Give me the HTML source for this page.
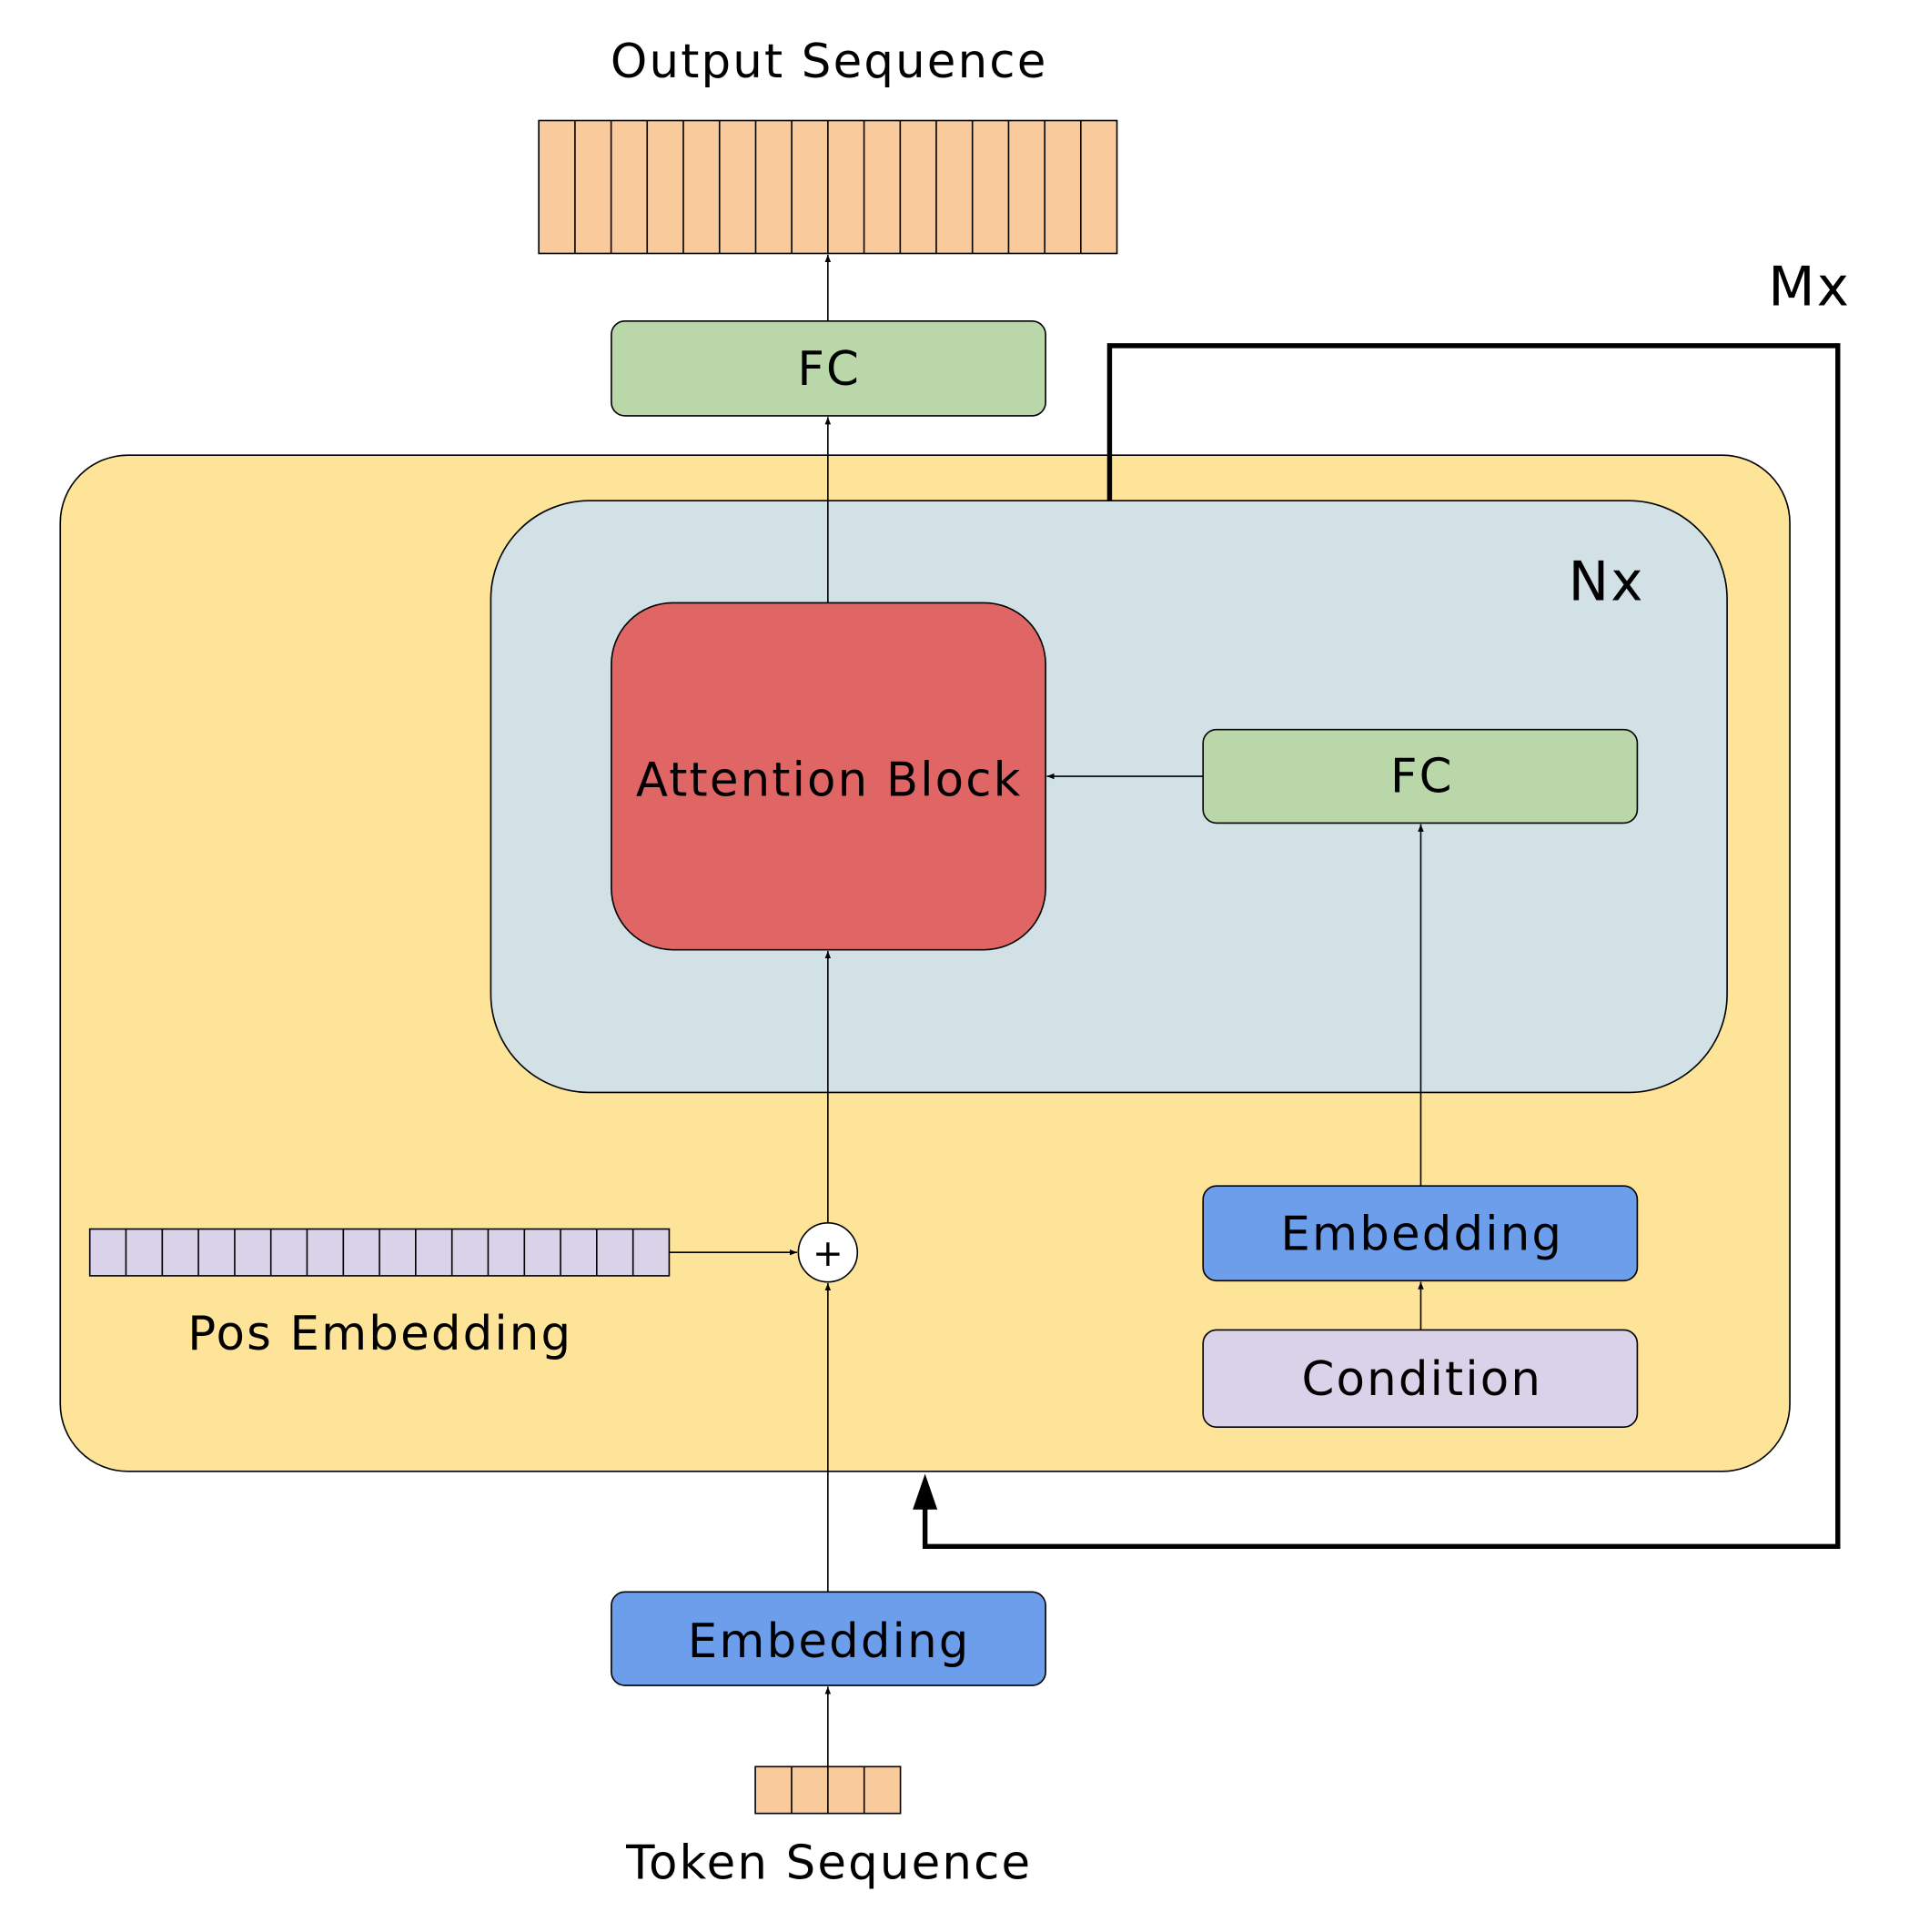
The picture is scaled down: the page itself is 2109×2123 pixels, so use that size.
<!DOCTYPE html>
<html><head><style>html,body{margin:0;padding:0;background:#fff}svg{display:block}text{letter-spacing:1.6px}</style></head><body>
<svg width="2109" height="2123" viewBox="0 0 1560 1570.4" preserveAspectRatio="none" xmlns="http://www.w3.org/2000/svg" font-family="DejaVu Sans, Liberation Sans, sans-serif">
<defs>
<marker id="a" viewBox="0 0 10 10" refX="10" refY="5" markerWidth="6" markerHeight="6" orient="auto" markerUnits="userSpaceOnUse"><path d="M0,1 L10,5 L0,9 z" fill="#000"/></marker>
</defs>
<text x="674" y="63" font-size="38" text-anchor="middle">Output Sequence</text>
<g fill="#f9cb9c" stroke="#000" stroke-width="1.2">
<rect x="438" y="98" width="470" height="108"/>
</g>
<g stroke="#000" stroke-width="1.2">
<line x1="467.4" y1="98" x2="467.4" y2="206"/><line x1="496.8" y1="98" x2="496.8" y2="206"/><line x1="526.1" y1="98" x2="526.1" y2="206"/><line x1="555.5" y1="98" x2="555.5" y2="206"/><line x1="584.9" y1="98" x2="584.9" y2="206"/><line x1="614.3" y1="98" x2="614.3" y2="206"/><line x1="643.6" y1="98" x2="643.6" y2="206"/><line x1="673" y1="98" x2="673" y2="206"/><line x1="702.4" y1="98" x2="702.4" y2="206"/><line x1="731.8" y1="98" x2="731.8" y2="206"/><line x1="761.1" y1="98" x2="761.1" y2="206"/><line x1="790.5" y1="98" x2="790.5" y2="206"/><line x1="819.9" y1="98" x2="819.9" y2="206"/><line x1="849.3" y1="98" x2="849.3" y2="206"/><line x1="878.6" y1="98" x2="878.6" y2="206"/>
</g>
<line x1="673" y1="261" x2="673" y2="207" stroke="#000" stroke-width="1.2" marker-end="url(#a)"/>
<rect x="497" y="261" width="353" height="77" rx="11" fill="#b9d7a8" stroke="#000" stroke-width="1.2"/>
<text x="674" y="313" font-size="38" text-anchor="middle">FC</text>
<rect x="49" y="370" width="1406" height="826" rx="55" fill="#fde499" stroke="#000" stroke-width="1.2"/>
<rect x="399" y="407" width="1005" height="481" rx="80" fill="#d1e1e5" stroke="#000" stroke-width="1.2"/>
<text x="1306" y="488" font-size="44" text-anchor="middle">Nx</text>
<line x1="673" y1="490" x2="673" y2="339" stroke="#000" stroke-width="1.2" marker-end="url(#a)"/>
<rect x="497" y="490" width="353" height="282" rx="50" fill="#e06666" stroke="#000" stroke-width="1.2"/>
<text x="674" y="647" font-size="38" text-anchor="middle">Attention Block</text>
<rect x="978" y="593" width="353" height="76" rx="11" fill="#b9d7a8" stroke="#000" stroke-width="1.2"/>
<text x="1156" y="644" font-size="38" text-anchor="middle">FC</text>
<line x1="978" y1="631" x2="851" y2="631" stroke="#000" stroke-width="1.2" marker-end="url(#a)"/>
<line x1="1155" y1="964" x2="1155" y2="670" stroke="#000" stroke-width="1.2" marker-end="url(#a)"/>
<rect x="978" y="964" width="353" height="77" rx="11" fill="#6d9eeb" stroke="#000" stroke-width="1.2"/>
<text x="1156" y="1016" font-size="38" text-anchor="middle">Embedding</text>
<line x1="1155" y1="1081" x2="1155" y2="1042" stroke="#000" stroke-width="1.2" marker-end="url(#a)"/>
<rect x="978" y="1081" width="353" height="79" rx="11" fill="#d9d2e9" stroke="#000" stroke-width="1.2"/>
<text x="1156" y="1134" font-size="38" text-anchor="middle">Condition</text>
<line x1="673" y1="994" x2="673" y2="773" stroke="#000" stroke-width="1.2" marker-end="url(#a)"/>
<rect x="73" y="999" width="471" height="38" fill="#d9d2e9" stroke="#000" stroke-width="1.2"/>
<g stroke="#000" stroke-width="1.2">
<line x1="102.4" y1="999" x2="102.4" y2="1037"/><line x1="131.9" y1="999" x2="131.9" y2="1037"/><line x1="161.3" y1="999" x2="161.3" y2="1037"/><line x1="190.8" y1="999" x2="190.8" y2="1037"/><line x1="220.2" y1="999" x2="220.2" y2="1037"/><line x1="249.6" y1="999" x2="249.6" y2="1037"/><line x1="279.1" y1="999" x2="279.1" y2="1037"/><line x1="308.5" y1="999" x2="308.5" y2="1037"/><line x1="337.9" y1="999" x2="337.9" y2="1037"/><line x1="367.4" y1="999" x2="367.4" y2="1037"/><line x1="396.8" y1="999" x2="396.8" y2="1037"/><line x1="426.3" y1="999" x2="426.3" y2="1037"/><line x1="455.7" y1="999" x2="455.7" y2="1037"/><line x1="485.1" y1="999" x2="485.1" y2="1037"/><line x1="514.6" y1="999" x2="514.6" y2="1037"/>
</g>
<line x1="544" y1="1018" x2="648" y2="1018" stroke="#000" stroke-width="1.2" marker-end="url(#a)"/>
<circle cx="673" cy="1018" r="24" fill="#fff" stroke="#000" stroke-width="1.2"/>
<text x="673" y="1029" font-size="30" text-anchor="middle" style="letter-spacing:0">+</text>
<text x="309" y="1097" font-size="38" text-anchor="middle">Pos Embedding</text>
<path d="M902,407 L902,281 L1494,281 L1494,1257 L752,1257 L752,1225" fill="none" stroke="#000" stroke-width="4"/>
<path d="M742,1227 L752,1198 L762,1227 z" fill="#000"/>
<text x="1471" y="248" font-size="44" text-anchor="middle">Mx</text>
<line x1="673" y1="1294" x2="673" y2="1043" stroke="#000" stroke-width="1.2" marker-end="url(#a)"/>
<rect x="497" y="1294" width="353" height="76" rx="11" fill="#6d9eeb" stroke="#000" stroke-width="1.2"/>
<text x="674" y="1347" font-size="38" text-anchor="middle">Embedding</text>
<line x1="673" y1="1436" x2="673" y2="1371" stroke="#000" stroke-width="1.2" marker-end="url(#a)"/>
<rect x="614" y="1436" width="118" height="38" fill="#f9cb9c" stroke="#000" stroke-width="1.2"/>
<g stroke="#000" stroke-width="1.2"><line x1="643.5" y1="1436" x2="643.5" y2="1474"/><line x1="673" y1="1436" x2="673" y2="1474"/><line x1="702.5" y1="1436" x2="702.5" y2="1474"/></g>
<text x="674" y="1527" font-size="38" text-anchor="middle">Token Sequence</text>
</svg>
</body></html>
